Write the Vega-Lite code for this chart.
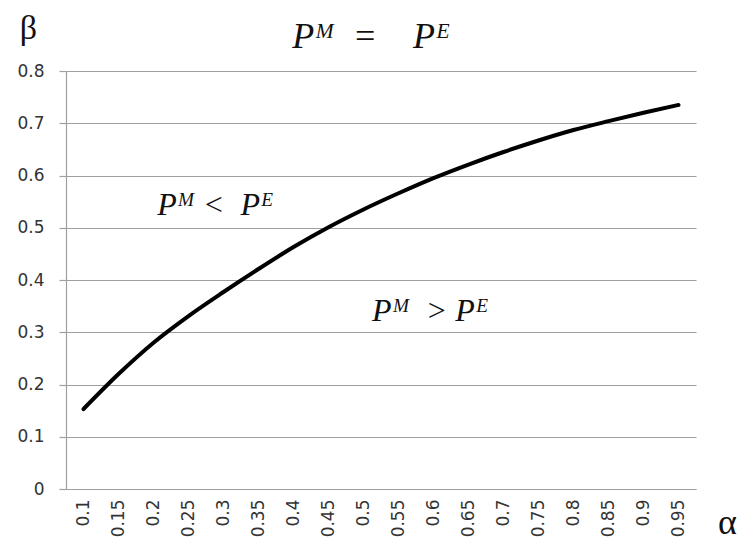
{
  "$schema": "https://vega.github.io/schema/vega-lite/v6.json",
  "autosize": "none",
  "width": 630,
  "height": 418,
  "padding": {"left": 66, "top": 71, "right": 44, "bottom": 68},
  "background": "white",
  "title": {
    "text": "Pᴹ\u2002=\u2002\u2002Pᴱ",
    "font": "Liberation Serif",
    "fontStyle": "italic",
    "fontWeight": "normal",
    "fontSize": 36,
    "color": "#111",
    "anchor": "middle",
    "frame": "group",
    "baseline": "bottom",
    "offset": -81,
    "dx": -10
  },
  "config": {
    "view": {"stroke": null},
    "axis": {
      "labelFont": "DejaVu Sans",
      "labelFontSize": 17,
      "labelColor": "#333",
      "domainColor": "#a0a0a0",
      "tickColor": "#a0a0a0",
      "gridColor": "#a0a0a0",
      "domainWidth": 1.2,
      "gridWidth": 1.2,
      "tickWidth": 1.2,
      "gridOpacity": 1,
      "titleFont": "Liberation Serif",
      "titleFontWeight": "normal",
      "titleColor": "#111"
    }
  },
  "encoding": {
    "x": {
      "field": "alpha",
      "type": "quantitative",
      "scale": {"domain": [0.075, 0.975], "nice": false, "zero": false},
      "axis": {
        "values": [0.1, 0.15, 0.2, 0.25, 0.3, 0.35, 0.4, 0.45, 0.5, 0.55, 0.6, 0.65, 0.7, 0.75, 0.8, 0.85, 0.9, 0.95],
        "format": ".2~f",
        "labelAngle": -90,
        "labelOverlap": false,
        "labelFlush": false,
        "labelBound": false,
        "ticks": false,
        "tickSize": 0,
        "labelPadding": 10,
        "grid": false,
        "title": "α",
        "titleFontSize": 36,
        "titleAngle": 0,
        "titleAlign": "center",
        "titleBaseline": "alphabetic",
        "titleX": 661,
        "titleY": 44
      }
    },
    "y": {
      "field": "beta",
      "type": "quantitative",
      "scale": {"domain": [0, 0.8], "nice": false},
      "axis": {
        "values": [0, 0.1, 0.2, 0.3, 0.4, 0.5, 0.6, 0.7, 0.8],
        "format": ".1~f",
        "labelOverlap": false,
        "tickSize": 7,
        "labelPadding": 15,
        "grid": true,
        "title": "β",
        "titleFontSize": 34,
        "titleAngle": 0,
        "titleAlign": "center",
        "titleBaseline": "alphabetic",
        "titleX": -38,
        "titleY": -33
      }
    }
  },
  "layer": [
    {
      "data": {
        "values": [
          {"alpha": 0.1, "beta": 0.153},
          {"alpha": 0.15, "beta": 0.220},
          {"alpha": 0.2, "beta": 0.280},
          {"alpha": 0.25, "beta": 0.331},
          {"alpha": 0.3, "beta": 0.377},
          {"alpha": 0.35, "beta": 0.421},
          {"alpha": 0.4, "beta": 0.463},
          {"alpha": 0.45, "beta": 0.501},
          {"alpha": 0.5, "beta": 0.535},
          {"alpha": 0.55, "beta": 0.566},
          {"alpha": 0.6, "beta": 0.595},
          {"alpha": 0.65, "beta": 0.621},
          {"alpha": 0.7, "beta": 0.645},
          {"alpha": 0.75, "beta": 0.667},
          {"alpha": 0.8, "beta": 0.687},
          {"alpha": 0.85, "beta": 0.704},
          {"alpha": 0.9, "beta": 0.720},
          {"alpha": 0.95, "beta": 0.735}
        ]
      },
      "mark": {"type": "line", "color": "black", "strokeWidth": 4, "strokeCap": "round", "interpolate": "monotone"}
    },
    {
      "data": {
        "values": [
          {"alpha": 0.288, "beta": 0.524, "label": "Pᴹ <\u2002Pᴱ"},
          {"alpha": 0.595, "beta": 0.322, "label": "Pᴹ\u2002> Pᴱ"}
        ]
      },
      "mark": {"type": "text", "font": "Liberation Serif", "fontStyle": "italic", "fontSize": 32, "color": "#111", "align": "center", "baseline": "alphabetic"},
      "encoding": {
        "text": {"field": "label"}
      }
    }
  ]
}
